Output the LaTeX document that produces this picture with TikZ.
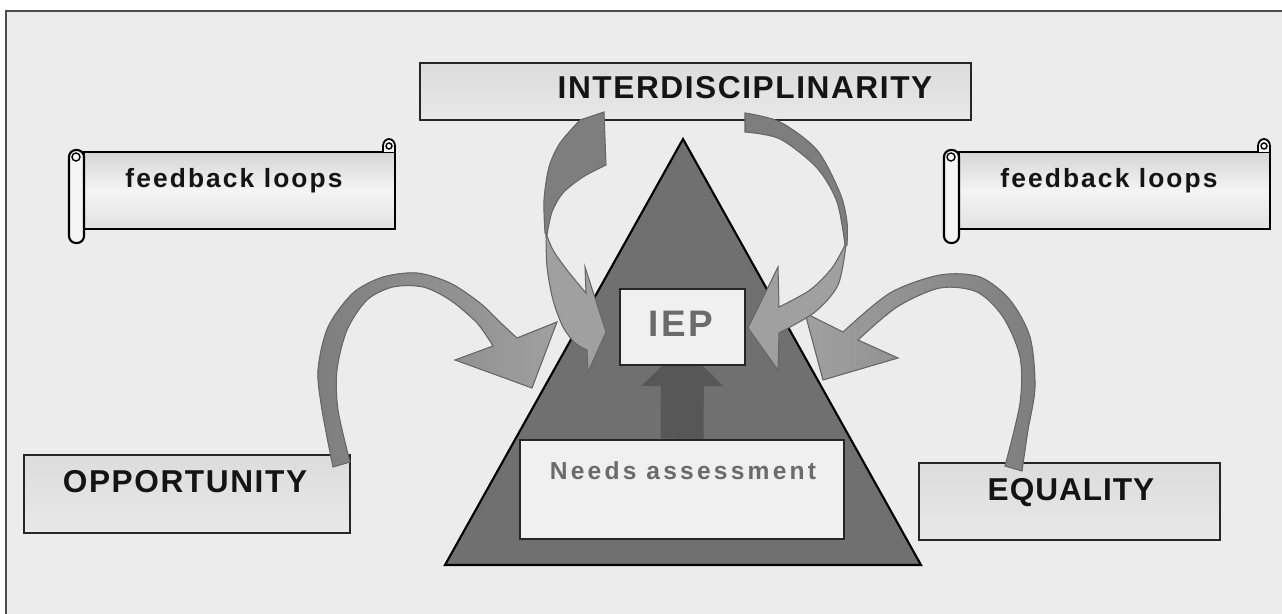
\documentclass[tikz,border=0pt]{standalone}
\usepackage{fontspec}
\setmainfont{Liberation Sans}
\newfontfamily\fsCap[LetterSpace=5]{Liberation Sans}
\newfontfamily\fsEq[LetterSpace=3]{Liberation Sans}
\newfontfamily\fsFb[LetterSpace=8]{Liberation Sans}
\newfontfamily\fsNeeds[LetterSpace=13]{Liberation Sans}
\newfontfamily\fsIep[LetterSpace=7]{Liberation Sans}
\usetikzlibrary{arrows.meta}
\definecolor{bgcol}{HTML}{ECECEC}
\definecolor{tricol}{HTML}{707070}
\definecolor{arrdark}{HTML}{7E7E7E}
\definecolor{arrlight}{HTML}{A0A0A0}
\definecolor{arredge}{HTML}{666666}
\definecolor{uparr}{HTML}{575757}
\definecolor{gtext}{HTML}{6B6B6B}
\definecolor{boxtop}{HTML}{DCDCDC}
\definecolor{boxbot}{HTML}{E8E8E8}
\definecolor{scrtop}{HTML}{D6D6D6}
\definecolor{scrmid}{HTML}{F4F4F4}
\definecolor{scrbot}{HTML}{E2E2E2}
\pgfdeclarelayer{bglayer}
\pgfdeclarelayer{midlayer}
\pgfsetlayers{bglayer,midlayer,main}
\tikzset{
  lbox/.style={draw=black!85, line width=1.4pt, top color=boxtop, bottom color=boxbot, inner sep=0pt},
  wbox/.style={draw=black!85, line width=1.4pt, fill=white!94!black, inner sep=0pt},
  captxt/.style={anchor=base, inner sep=0pt, text=black!92, font=\fsCap\bfseries\fontsize{18}{20}\selectfont},
  eqtxt/.style={anchor=base, inner sep=0pt, text=black!92, font=\fsEq\bfseries\fontsize{18}{20}\selectfont},
  fbtxt/.style={anchor=base, inner sep=0pt, text=black!92, font=\fsFb\bfseries\fontsize{15}{17}\selectfont},
  needstxt/.style={anchor=base, inner sep=0pt, text=gtext, font=\fsNeeds\bfseries\fontsize{14}{16}\selectfont},
  ieptxt/.style={anchor=base, inner sep=0pt, text=gtext, font=\fsIep\bfseries\fontsize{21}{23}\selectfont},
  bandarrow/.style={draw=arredge, line width=0.6pt},
  fbscroll/.pic={
    \draw[line width=1.2pt, top color=scrtop, bottom color=scrbot, middle color=scrmid] (84,152) rectangle (395,229);
    \draw[line width=1pt, fill=scrmid] (383,152) -- (383,146) arc[start angle=180, end angle=0, x radius=0.12cm, y radius=0.14cm] -- (395,152);
    \draw[line width=0.8pt] (389,146) circle[radius=0.06cm];
    \draw[line width=1.2pt, fill=white!96!black, rounded corners=0.14cm] (69,150) rectangle (84,243);
    \draw[line width=0.8pt] (76,157) circle[radius=0.08cm];
    \node[fbtxt] (-txt) at (234,188) {feedback loops};
  }
}
\begin{document}
\begin{tikzpicture}[x=0.02cm, y=-0.02cm]
\useasboundingbox (0,0) rectangle (1282,614);
\begin{pgfonlayer}{bglayer}
  \fill[white] (0,0) rectangle (1282,614);
  \fill[bgcol] (6,11) rectangle (1282,614);
  \draw[line width=0.9pt, black!70] (6,614) -- (6,11) -- (1282,11);
  \draw[fill=tricol, line width=1.2pt, line join=miter] (683,139) -- (445,565) -- (921,565) -- cycle;
\end{pgfonlayer}

% boxes
\node[lbox, minimum width=11.02cm, minimum height=1.14cm] (inter) at (695.5,91.5) {};
\node[captxt] (intertxt) at (745,99) {INTERDISCIPLINARITY};
\node[lbox, minimum width=6.52cm, minimum height=1.56cm] (opp) at (187,494) {};
\node[captxt] (opptxt) at (185,493) {OPPORTUNITY};
\node[lbox, minimum width=6.02cm, minimum height=1.54cm] (eq) at (1069.5,501.5) {};
\node[eqtxt] (eqtxt) at (1071,501) {EQUALITY};
\node[wbox, minimum width=6.48cm, minimum height=1.98cm] (needs) at (682,489.5) {};
\node[needstxt] (needstxt) at (683,480) {Needs assessment};
\node[wbox, minimum width=2.5cm, minimum height=1.52cm] (iep) at (682.5,327) {};
\node[ieptxt] (ieptxt) at (681,337) {IEP};

% up arrow from needs to IEP
\begin{pgfonlayer}{midlayer}
  \draw[uparr, line width=0.86cm, shorten >=-0.4cm,
        -{Triangle[width=1.6cm, length=0.8cm]}] (needs.north) -- (iep.south);
\end{pgfonlayer}

% feedback scrolls
\pic (fbl) at (0,0) {fbscroll};
\pic (fbr) at (875,0) {fbscroll};

% arrow from OPPORTUNITY
\filldraw[bandarrow, left color=arrdark, right color=arrlight]
  plot[smooth] coordinates {(333,467) (322,410) (318,370) (328,327) (353,293) (383,277) (417,273) (450,283) (480,303) (503,325) (517,338)}
  -- (557,322) -- (532,388) -- (455,360)
  -- plot[smooth] coordinates {(493,346) (477,323) (450,300) (423,287) (393,287) (367,300) (347,330) (337,370) (338,410) (350,462)}
  -- cycle;

% arrow from EQUALITY
\filldraw[bandarrow, left color=arrlight, right color=arrdark]
  plot[smooth] coordinates {(1022,471) (1028,430) (1035,387) (1030,337) (1010,300) (980,277) (940,275) (890,293) (843,332)}
  -- (805,313) -- (823,380) -- (898,358)
  -- plot[smooth] coordinates {(858,340) (897,307) (940,288) (977,292) (1003,317) (1020,357) (1020,403) (1005,466)}
  -- cycle;

% left arrow from INTERDISCIPLINARITY
\filldraw[bandarrow, fill=arrlight]
  plot[smooth] coordinates {(546,233) (547,267) (553,300) (563,327) (575,343) (587,350)}
  -- (588,372) -- (606,332) -- (585,267)
  -- plot[smooth] coordinates {(586,293) (567,270) (553,250) (546,233)}
  -- cycle;
\filldraw[bandarrow, fill=arrdark]
  (580,120) -- (604,112) -- (606,165)
  -- plot[smooth] coordinates {(606,165) (583,177) (563,193) (552,212) (547,235)}
  -- plot[smooth] coordinates {(545,233) (544,200) (549,167) (560,143) (580,120)}
  -- cycle;

% right arrow from INTERDISCIPLINARITY
\filldraw[bandarrow, fill=arrlight]
  plot[smooth] coordinates {(846,245) (838,285) (815,312) (779,333)}
  -- (778,370) -- (748,328) -- (778,267)
  -- plot[smooth] coordinates {(779,307) (810,290) (832,268) (845,245)}
  -- cycle;
\filldraw[bandarrow, fill=arrdark]
  (745,113) -- (745,132)
  -- plot[smooth] coordinates {(745,132) (780,139) (817,168) (837,202) (845,245)}
  -- plot[smooth] coordinates {(847,245) (847,222) (840,193) (817,150) (780,122) (745,113)}
  -- cycle;
\end{tikzpicture}
\end{document}
